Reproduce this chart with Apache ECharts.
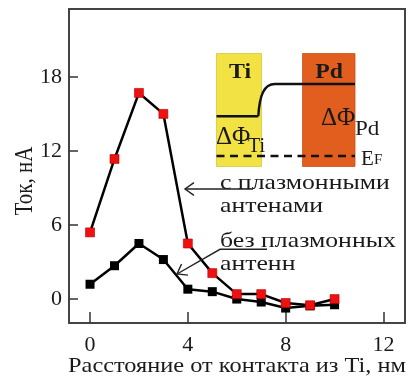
<!DOCTYPE html>
<html>
<head>
<meta charset="utf-8">
<script src="https://cdn.jsdelivr.net/npm/echarts@6/dist/echarts.min.js"></script>
<style>
  html, body { margin: 0; padding: 0; background: #fff; }
  #chart { width: 409px; height: 381px; }
</style>
</head>
<body>
<div id="chart"></div>
<script>
// Distance from the Ti contact, nm
const distance = [0, 1, 2, 3, 4, 5, 6, 7, 8, 9, 10];
// Photocurrent, nA
const withAntennas = [5.4, 11.35, 16.7, 15.0, 4.5, 2.1, 0.4, 0.4, -0.32, -0.5, 0.0];
const withoutAntennas = [1.2, 2.7, 4.5, 3.2, 0.8, 0.6, 0.0, -0.24, -0.73, -0.55, -0.46];
// Tick marks
const xTicks = [0, 4, 8, 12];
const yTicks = [0, 6, 12, 18];

const SERIF = '"Liberation Serif", "Times New Roman", serif';
const INK = '#1a1a1a';
const FRAME = '#444';

const chart = echarts.init(document.getElementById('chart'), null, { renderer: 'canvas' });

function label(text, x, y, size, opts) {
  opts = opts || {};
  return {
    type: 'text',
    x: x, y: y,
    scaleX: opts.scaleX || 1.16,
    scaleY: opts.scaleY || 1,
    rotation: opts.rotation || 0,
    z: 20,
    style: {
      text: text, x: 0, y: 0,
      font: (opts.bold ? 'bold ' : '') + size + 'px ' + SERIF,
      fill: opts.fill || INK,
      textAlign: opts.align || 'left',
      textVerticalAlign: opts.vAlign || 'middle'
    }
  };
}

function arrowHead(tipX, tipY, fromX, fromY, len, spread) {
  const ang = Math.atan2(fromY - tipY, fromX - tipX);
  const a1 = ang + spread, a2 = ang - spread;
  return {
    type: 'polyline', z: 20,
    shape: { points: [
      [tipX + len * Math.cos(a1), tipY + len * Math.sin(a1)],
      [tipX, tipY],
      [tipX + len * Math.cos(a2), tipY + len * Math.sin(a2)]
    ] },
    style: { stroke: '#222', lineWidth: 1.4, fill: null }
  };
}

const graphics = [
  // axis titles
  label('Расстояние от контакта из Ti, нм', 237, 366, 21, { align: 'center' }),
  label('Ток, нА', 25, 181, 21, { align: 'center', rotation: Math.PI / 2, scaleX: 1, scaleY: 1.18 }),

  // band diagram inset: Ti and Pd blocks
  { type: 'rect', z: 10, shape: { x: 216.5, y: 53.5, width: 45, height: 113 },
    style: { fill: '#F2E244', stroke: '#D8C63A', lineWidth: 0.8 } },
  { type: 'rect', z: 10, shape: { x: 302.5, y: 53.5, width: 52.5, height: 113 },
    style: { fill: '#E25E1E', stroke: '#C9531B', lineWidth: 0.8 } },
  // work-function levels
  { type: 'polyline', z: 12, shape: { points: [[216.5, 116.3], [258.3, 116.3]] },
    style: { stroke: '#111', lineWidth: 2.4, fill: null } },
  { type: 'bezierCurve', z: 12,
    shape: { x1: 258.3, y1: 116.3, cpx1: 259.5, cpy1: 95, cpx2: 264, cpy2: 84, x2: 275, y2: 84 },
    style: { stroke: '#111', lineWidth: 2.4, fill: null } },
  { type: 'polyline', z: 12, shape: { points: [[275, 84], [355, 84]] },
    style: { stroke: '#111', lineWidth: 2.4, fill: null } },
  // Fermi level
  { type: 'polyline', z: 12, shape: { points: [[216.5, 156], [355, 156]] },
    style: { stroke: '#111', lineWidth: 2.4, fill: null, lineDash: [8, 5.5] } },
  label('Ti', 240, 72, 22, { bold: true, align: 'center', scaleX: 1.08 }),
  label('Pd', 329, 72, 22, { bold: true, align: 'center', scaleX: 1.08 }),
  label('ΔΦ', 216, 137, 25, { scaleX: 1.0 }),
  label('Ti', 248, 147, 20, { scaleX: 1.0 }),
  label('ΔΦ', 321, 118, 25, { scaleX: 1.0 }),
  label('Pd', 355, 129, 21, { scaleX: 1.1 }),
  label('E', 361, 159, 21, { scaleX: 1.0 }),
  label('F', 374, 160, 15, { scaleX: 1.0 }),

  // callouts
  label('с плазмонными', 220, 183, 22, { scaleX: 1.17 }),
  label('антенами', 220, 206, 22, { scaleX: 1.17 }),
  label('без плазмонных', 220, 241, 22, { scaleX: 1.17 }),
  label('антенн', 220, 264, 22, { scaleX: 1.17 }),
  { type: 'polyline', z: 20, shape: { points: [[253, 189], [185, 189]] },
    style: { stroke: '#222', lineWidth: 1.4, fill: null } },
  arrowHead(185, 189, 253, 189, 11, 0.62),
  { type: 'polyline', z: 20, shape: { points: [[267, 249.3], [220, 249.3], [177, 274]] },
    style: { stroke: '#222', lineWidth: 1.4, fill: null } },
  arrowHead(177, 274, 220, 249.3, 11, 0.62)
];

const option = {
  animation: false,
  backgroundColor: '#fff',
  grid: {
    left: 69, right: 4, top: 9, bottom: 58,
    show: true, borderColor: FRAME, borderWidth: 2, backgroundColor: 'transparent'
  },
  xAxis: {
    type: 'value',
    min: -0.86, max: 12.88,
    axisLine: { show: true, onZero: false, lineStyle: { color: FRAME, width: 2 } },
    axisTick: { show: true, inside: true, length: 11, customValues: xTicks,
      lineStyle: { color: '#333', width: 1.5 } },
    axisLabel: { customValues: xTicks, fontFamily: SERIF, fontSize: 22, color: INK, margin: 11 },
    splitLine: { show: false }
  },
  yAxis: {
    type: 'value',
    min: -1.94, max: 23.5,
    axisLine: { show: true, onZero: false, lineStyle: { color: FRAME, width: 2 } },
    axisTick: { show: true, inside: true, length: 9, customValues: yTicks,
      lineStyle: { color: '#333', width: 1.5 } },
    axisLabel: { customValues: yTicks, fontFamily: SERIF, fontSize: 22, color: INK, margin: 7 },
    splitLine: { show: false }
  },
  series: [
    {
      name: 'без плазмонных антенн',
      type: 'line',
      data: distance.map((d, i) => [d, withoutAntennas[i]]),
      symbol: 'rect', symbolSize: 9,
      lineStyle: { color: '#000', width: 2.5 },
      itemStyle: { color: '#000' },
      z: 3
    },
    {
      name: 'с плазмонными антенами',
      type: 'line',
      data: distance.map((d, i) => [d, withAntennas[i]]),
      symbol: 'rect', symbolSize: 9,
      lineStyle: { color: '#000', width: 2.5 },
      itemStyle: { color: '#EE1111', borderColor: '#B80000', borderWidth: 0.6 },
      z: 4
    }
  ],
  graphic: graphics
};

chart.setOption(option);
</script>
</body>
</html>
